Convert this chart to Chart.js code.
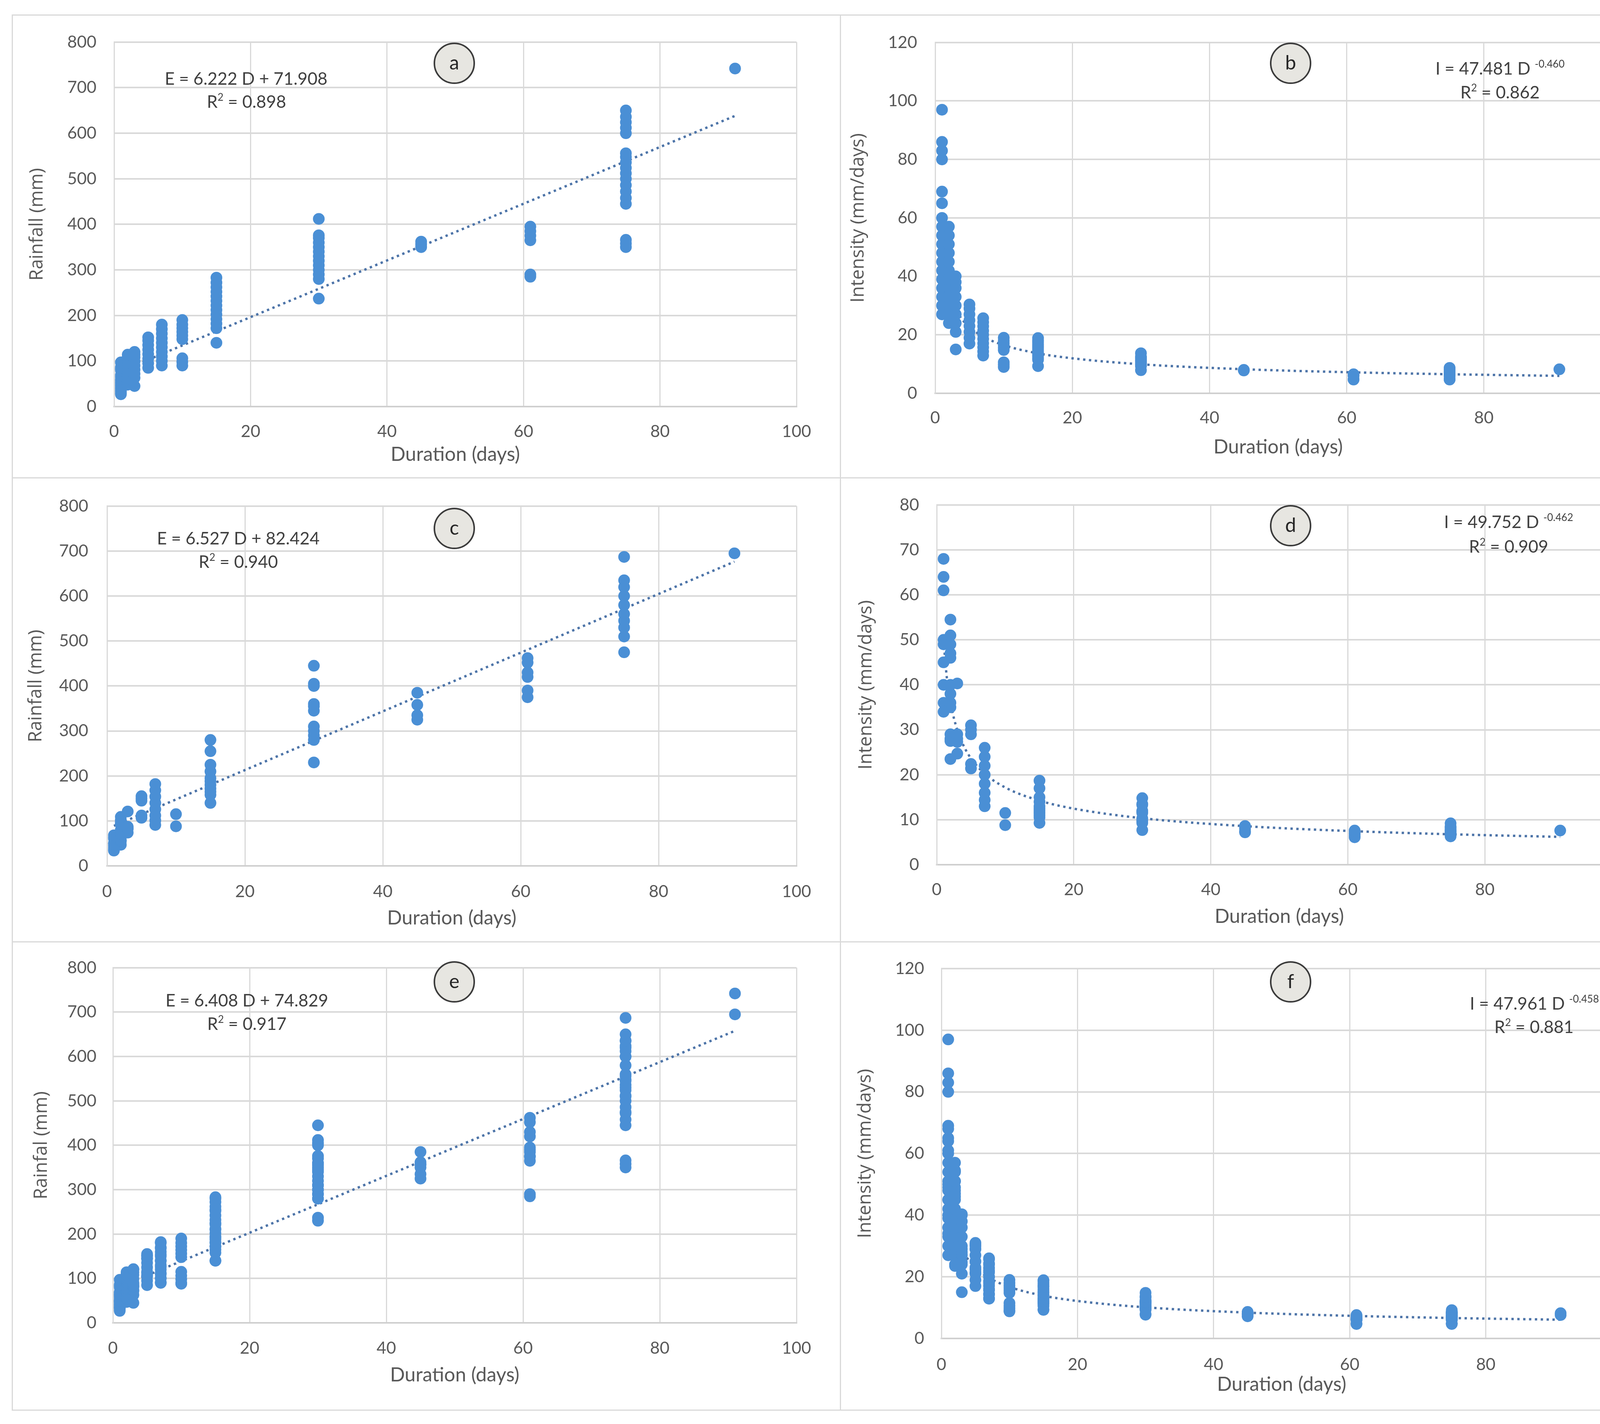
<!DOCTYPE html>
<html>
<head>
<meta charset="utf-8">
<title>Rainfall and intensity vs duration</title>
<script src="https://cdn.jsdelivr.net/npm/chart.js@4.4.1/dist/chart.umd.min.js"></script>
<style>
  body { margin:0; width:4296px; height:3646px; background:#fff; position:relative; overflow:hidden; font-family:Lato, "Open Sans", sans-serif; }
  canvas { position:absolute; }
  .frame { position:absolute; border:3px solid #d9d9d9; box-sizing:border-box; }
  .eq { position:absolute; transform:translate(-50%,-50%); font-size:44px; color:#404040; white-space:nowrap; line-height:1; }
  .eq sup { font-size:26px; vertical-align:18px; line-height:0; }
  .tag { position:absolute; width:106px; height:106px; margin:-53px 0 0 -53px; box-sizing:border-box;
         border:4px solid #3b3b3b; border-radius:50%; background:#e7e6e1; color:#262626;
         font-size:50px; text-align:center; line-height:92px; }
</style>
</head>
<body>
<script>
//DATOS
const durations = [1, 2, 3, 5, 7, 10, 15, 30, 45, 61, 75, 91];

// rainfall (mm), one list per duration
const rainA = [
  [27, 30, 33, 36, 39, 42, 45, 48, 51, 54, 57, 60, 65, 69, 80, 83, 86, 97],
  [48, 54, 60, 66, 72, 78, 84, 90, 96, 102, 108, 114],
  [45, 63, 72, 81, 90, 99, 108, 114, 120],
  [85, 95, 105, 115, 125, 135, 145, 152],
  [90, 100, 110, 120, 130, 140, 150, 160, 170, 180],
  [90, 98, 106, 148, 156, 164, 172, 180, 190],
  [140, 172, 182, 192, 202, 212, 222, 232, 242, 252, 262, 272, 283],
  [237, 280, 290, 300, 310, 320, 330, 340, 350, 360, 370, 376, 412],
  [350, 356, 362],
  [285, 290, 365, 375, 385, 395],
  [350, 358, 366, 445, 458, 472, 486, 500, 512, 524, 536, 548, 556, 600, 612, 624, 636, 650],
  [742]
];
const rainC = [
  [34, 36, 40, 45, 49, 50, 61, 64, 68],
  [47, 55, 56, 58, 70, 72, 76, 80, 92, 94, 98, 102, 109],
  [74, 82, 84, 87, 121],
  [107, 112, 145, 150, 155],
  [91, 101, 112, 126, 140, 154, 168, 182],
  [88, 115],
  [140, 158, 165, 172, 180, 188, 195, 210, 225, 255, 280],
  [230, 280, 290, 300, 310, 345, 355, 360, 400, 405, 445],
  [325, 335, 358, 385],
  [375, 390, 420, 430, 452, 462],
  [475, 510, 530, 545, 560, 580, 600, 620, 635, 687],
  [695]
];
const rainE = [
  [27, 30, 33, 34, 36, 36, 39, 40, 42, 45, 45, 48, 49, 50, 51, 54, 57, 60, 61, 64, 65, 68, 69, 80, 83, 86, 97],
  [47, 48, 54, 55, 56, 58, 60, 66, 70, 72, 72, 76, 78, 80, 84, 90, 92, 94, 96, 98, 102, 102, 108, 109, 114],
  [45, 63, 72, 74, 81, 82, 84, 87, 90, 99, 108, 114, 120, 121],
  [85, 95, 105, 107, 112, 115, 125, 135, 145, 145, 150, 152, 155],
  [90, 91, 100, 101, 110, 112, 120, 126, 130, 140, 140, 150, 154, 160, 168, 170, 180, 182],
  [88, 90, 98, 106, 115, 148, 156, 164, 172, 180, 190],
  [140, 140, 158, 165, 172, 172, 180, 182, 188, 192, 195, 202, 210, 212, 222, 225, 232, 242, 252, 255, 262, 272, 280, 283],
  [230, 237, 280, 280, 290, 290, 300, 300, 310, 310, 320, 330, 340, 345, 350, 355, 360, 360, 370, 376, 400, 405, 412, 445],
  [325, 335, 350, 356, 358, 362, 385],
  [285, 290, 365, 375, 375, 385, 390, 395, 420, 430, 452, 462],
  [350, 358, 366, 445, 458, 472, 475, 486, 500, 510, 512, 524, 530, 536, 545, 548, 556, 560, 580, 600, 600, 612, 620, 624, 635, 636, 650, 687],
  [695, 742]
];

// intensity (mm/days), one list per duration
const intB = [
  [27, 30, 33, 36, 39, 42, 45, 48, 51, 54, 57, 60, 65, 69, 80, 83, 86, 97],
  [24, 27, 30, 33, 36, 39, 42, 45, 48, 51, 54, 57],
  [15, 21, 24, 27, 30, 33, 36, 38, 40],
  [17, 19, 21, 23, 25, 27, 29, 30.4],
  [12.9, 14.3, 15.7, 17.1, 18.6, 20, 21.4, 22.9, 24.3, 25.7],
  [9, 9.8, 10.6, 14.8, 15.6, 16.4, 17.2, 18, 19],
  [9.3, 11.5, 12.1, 12.8, 13.5, 14.1, 14.8, 15.5, 16.1, 16.8, 17.5, 18.1, 18.9],
  [7.9, 9.3, 9.7, 10, 10.3, 10.7, 11, 11.3, 11.7, 12, 12.3, 12.5, 13.7],
  [7.8, 7.9, 8],
  [4.7, 4.8, 6, 6.1, 6.3, 6.5],
  [4.7, 4.8, 4.9, 5.9, 6.1, 6.3, 6.5, 6.7, 6.8, 7, 7.1, 7.3, 7.4, 8, 8.2, 8.3, 8.5, 8.7],
  [8.2]
];
const intD = [
  [34, 36, 40, 45, 49, 50, 61, 64, 68],
  [23.5, 27.5, 28, 29, 35, 36, 38, 40, 46, 47, 49, 51, 54.5],
  [24.7, 27.3, 28, 29, 40.3],
  [21.4, 22.4, 29, 30, 31],
  [13, 14.4, 16, 18, 20, 22, 24, 26],
  [8.8, 11.5],
  [9.3, 10.5, 11, 11.5, 12, 12.5, 13, 14, 15, 17, 18.7],
  [7.7, 9.3, 9.7, 10, 10.3, 11.5, 11.8, 12, 13.3, 13.5, 14.8],
  [7.2, 7.4, 8, 8.6],
  [6.1, 6.4, 6.9, 7, 7.4, 7.6],
  [6.3, 6.8, 7.1, 7.3, 7.5, 7.7, 8, 8.3, 8.5, 9.2],
  [7.6]
];
const intF = [
  [27, 30, 33, 34, 36, 36, 39, 40, 42, 45, 45, 48, 49, 50, 51, 54, 57, 60, 61, 64, 65, 68, 69, 80, 83, 86, 97],
  [23.5, 24, 27, 27.5, 28, 29, 30, 33, 35, 36, 36, 38, 39, 40, 42, 45, 46, 47, 48, 49, 51, 51, 54, 54.5, 57],
  [15, 21, 24, 24.7, 27, 27.3, 28, 29, 30, 33, 36, 38, 40, 40.3],
  [17, 19, 21, 21.4, 22.4, 23, 25, 27, 29, 29, 30, 30.4, 31],
  [12.9, 13, 14.3, 14.4, 15.7, 16, 17.1, 18, 18.6, 20, 20, 21.4, 22, 22.9, 24, 24.3, 25.7, 26],
  [8.8, 9, 9.8, 10.6, 11.5, 14.8, 15.6, 16.4, 17.2, 18, 19],
  [9.3, 9.3, 10.5, 11, 11.5, 11.5, 12, 12.1, 12.5, 12.8, 13, 13.5, 14, 14.1, 14.8, 15, 15.5, 16.1, 16.8, 17, 17.5, 18.1, 18.7, 18.9],
  [7.7, 7.9, 9.3, 9.3, 9.7, 9.7, 10, 10, 10.3, 10.3, 10.7, 11, 11.3, 11.5, 11.7, 11.8, 12, 12, 12.3, 12.5, 13.3, 13.5, 13.7, 14.8],
  [7.2, 7.4, 7.8, 7.9, 8, 8, 8.6],
  [4.7, 4.8, 6, 6.1, 6.1, 6.3, 6.4, 6.5, 6.9, 7, 7.4, 7.6],
  [4.7, 4.8, 4.9, 5.9, 6.1, 6.3, 6.3, 6.5, 6.7, 6.8, 6.8, 7, 7.1, 7.1, 7.3, 7.3, 7.4, 7.5, 7.7, 8, 8, 8.2, 8.3, 8.3, 8.5, 8.5, 8.7, 9.2],
  [7.6, 8.2]
];

// trend lines as they appear on the chart
const fitDaysLinear = [1, 91];
const fitA = [78.1, 638.1];
const fitC = [89.0, 676.4];
const fitE = [81.2, 657.9];

const fitDaysPower = [1, 1.5, 2, 3, 4, 5, 7, 10, 15, 20, 30, 45, 61, 75, 91];
const fitB = [47.48, 39.40, 34.52, 28.64, 25.09, 22.65, 19.40, 16.47, 13.66, 11.97, 9.93, 8.24, 7.17, 6.52, 5.96];
const fitD = [49.75, 41.26, 36.12, 29.95, 26.22, 23.65, 20.25, 17.17, 14.24, 12.47, 10.34, 8.57, 7.45, 6.77, 6.19];
const fitF = [47.96, 39.83, 34.92, 29.00, 25.42, 22.95, 19.67, 16.71, 13.87, 12.16, 10.10, 8.39, 7.30, 6.64, 6.08];

// axis ranges [min, max, step]
const xRange = [0, 100, 20];
const rainRange = [0, 800, 100];
const intRange120 = [0, 120, 20];
const intRange80 = [0, 80, 10];

//TEXTOS
const xTitle = "Duration (days)";
const equations = {
  a: ["E = 6.222 D + 71.908", "0.898", null],
  b: ["I = 47.481 D", "0.862", "-0.460"],
  c: ["E = 6.527 D + 82.424", "0.940", null],
  d: ["I = 49.752 D", "0.909", "-0.462"],
  e: ["E = 6.408 D + 74.829", "0.917", null],
  f: ["I = 47.961 D", "0.881", "-0.458"]
};

//ESTILO
const AZUL = "#4a8fd5";
const AZUL_AJUSTE = "#4d74a8";
const GRIS = "#d9d9d9";
const TEXTO = "#595959";

// panel box, plot area, label positions (page pixels)
const paneles = [
  {id:"a", box:[30, 37, 2153, 1225], plot:[292, 96, 2039, 1041], yTitleX:96, yTickRight:247, xTickY:1105, xTitleY:1164,
   yTitle:"Rainfall (mm)", range:rainRange, vals:rainA, fx:fitDaysLinear, fy:fitA, eq:[630, 200, 631, 259], tag:[1163, 162]},
  {id:"b", box:[2150, 37, 4258, 1225], plot:[2394, 97, 4150, 1007], yTitleX:2198, yTickRight:2348, xTickY:1070, xTitleY:1145,
   yTitle:"Intensity (mm/days)", range:intRange120, vals:intB, fx:fitDaysPower, fy:fitB, eq:[3840, 174, 3840, 235], tag:[3304, 162]},
  {id:"c", box:[30, 1222, 2153, 2413], plot:[274, 1280, 2039, 2217], yTitleX:93, yTickRight:226, xTickY:2283, xTitleY:2351,
   yTitle:"Rainfall (mm)", range:rainRange, vals:rainC, fx:fitDaysLinear, fy:fitC, eq:[610, 1377, 610, 1437], tag:[1163, 1353]},
  {id:"d", box:[2150, 1222, 4258, 2413], plot:[2398, 1280, 4152, 2214], yTitleX:2218, yTickRight:2353, xTickY:2278, xTitleY:2347,
   yTitle:"Intensity (mm/days)", range:intRange80, vals:intD, fx:fitDaysPower, fy:fitD, eq:[3862, 1335, 3862, 1398], tag:[3304, 1346]},
  {id:"e", box:[30, 2410, 2153, 3612], plot:[289, 2469, 2039, 3387], yTitleX:107, yTickRight:247, xTickY:3452, xTitleY:3521,
   yTitle:"Rainfal (mm)", range:rainRange, vals:rainE, fx:fitDaysLinear, fy:fitE, eq:[632, 2560, 632, 2620], tag:[1163, 2514]},
  {id:"f", box:[2150, 2410, 4258, 3612], plot:[2410, 2467, 4152, 3427], yTitleX:2216, yTickRight:2366, xTickY:3494, xTitleY:3545,
   yTitle:"Intensity (mm/days)", range:intRange120, vals:intF, fx:fitDaysPower, fy:fitF, eq:[3928, 2568, 3927, 2628], tag:[3304, 2514]}
];

const TICK_FONT = {family:"Lato", size:43, lineHeight:1.2};
const XTITLE_FONT = {family:"Lato", size:50, lineHeight:1.2};
const YTITLE_FONT = {family:"Open Sans", size:47, lineHeight:1.2};


function puntos(vals){
  let out = [];
  durations.forEach((d, i) => vals[i].forEach(v => out.push({x:d, y:v})));
  return out;
}

function ajuste(xs, ys){
  return xs.map((x, i) => ({x:x, y:ys[i]}));
}

function addDiv(cls, x, y, html){
  const el = document.createElement("div");
  el.className = cls;
  el.style.left = x + "px";
  el.style.top = y + "px";
  el.innerHTML = html;
  document.body.appendChild(el);
}


function dibujar(p){
  const [bl, bt, br, bb] = p.box;
  const [pl, pt, pr, pb] = p.plot;

  const cv = document.createElement("canvas");
  cv.width = br - bl;
  cv.height = bb - bt;
  cv.style.left = bl + "px";
  cv.style.top = bt + "px";
  document.body.appendChild(cv);

  const yw = pl - bl;
  const xh = bb - pb;

  new Chart(cv, {
    type: "scatter",
    data: {
      datasets: [
        {
          type: "scatter",
          data: puntos(p.vals),
          backgroundColor: AZUL,
          borderColor: AZUL,
          borderWidth: 0,
          pointRadius: 15,
          pointHoverRadius: 15,
          order: 0
        },
        {
          type: "line",
          data: ajuste(p.fx, p.fy),
          borderColor: AZUL_AJUSTE,
          borderWidth: 6,
          borderDash: [6, 9],
          borderCapStyle: "butt",
          pointRadius: 0,
          fill: false,
          cubicInterpolationMode: "monotone",
          order: 1
        }
      ]
    },
    options: {
      responsive: false,
      animation: false,
      devicePixelRatio: 1,
      layout: { padding: { left: 0, top: pt - bt, right: br - pr, bottom: 0 } },
      plugins: { legend: { display: false }, tooltip: { enabled: false } },
      scales: {
        x: {
          type: "linear",
          min: xRange[0], max: xRange[1],
          ticks: { stepSize: xRange[2], color: TEXTO, font: TICK_FONT, padding: p.xTickY - pb - TICK_FONT.size * 0.6 },
          grid: { color: GRIS, lineWidth: 3, drawTicks: false },
          border: { color: "#cfcfcf", width: 4 },
          title: { display: true, text: xTitle, color: TEXTO, font: XTITLE_FONT,
                   padding: { top: 0, bottom: bb - p.xTitleY - XTITLE_FONT.size * 0.6 } },
          afterFit: s => { s.height = xh; }
        },
        y: {
          type: "linear",
          min: p.range[0], max: p.range[1],
          ticks: { stepSize: p.range[2], color: TEXTO, font: TICK_FONT, padding: pl - p.yTickRight },
          grid: { color: GRIS, lineWidth: 4, drawTicks: false },
          border: { color: GRIS, width: 3 },
          title: { display: true, text: p.yTitle, color: TEXTO, font: YTITLE_FONT,
                   padding: { top: p.yTitleX - bl - YTITLE_FONT.size * 0.6, bottom: 0 } },
          afterFit: s => { s.width = yw; }
        }
      }
    }
  });

  // frame of the panel
  const fr = document.createElement("div");
  fr.className = "frame";
  fr.style.left = bl + "px";
  fr.style.top = bt + "px";
  fr.style.width = (br - bl) + "px";
  fr.style.height = (bb - bt) + "px";
  document.body.appendChild(fr);

  // equation + R2
  const e = equations[p.id];
  let linea1 = e[0];
  if (e[2]) linea1 += " <sup>" + e[2] + "</sup>";
  addDiv("eq", p.eq[0], p.eq[1], linea1);
  addDiv("eq", p.eq[2], p.eq[3], "R<sup>2</sup> = " + e[1]);

  // circled letter
  addDiv("tag", p.tag[0], p.tag[1], p.id);
}

paneles.forEach(dibujar);
</script>
</body>
</html>
